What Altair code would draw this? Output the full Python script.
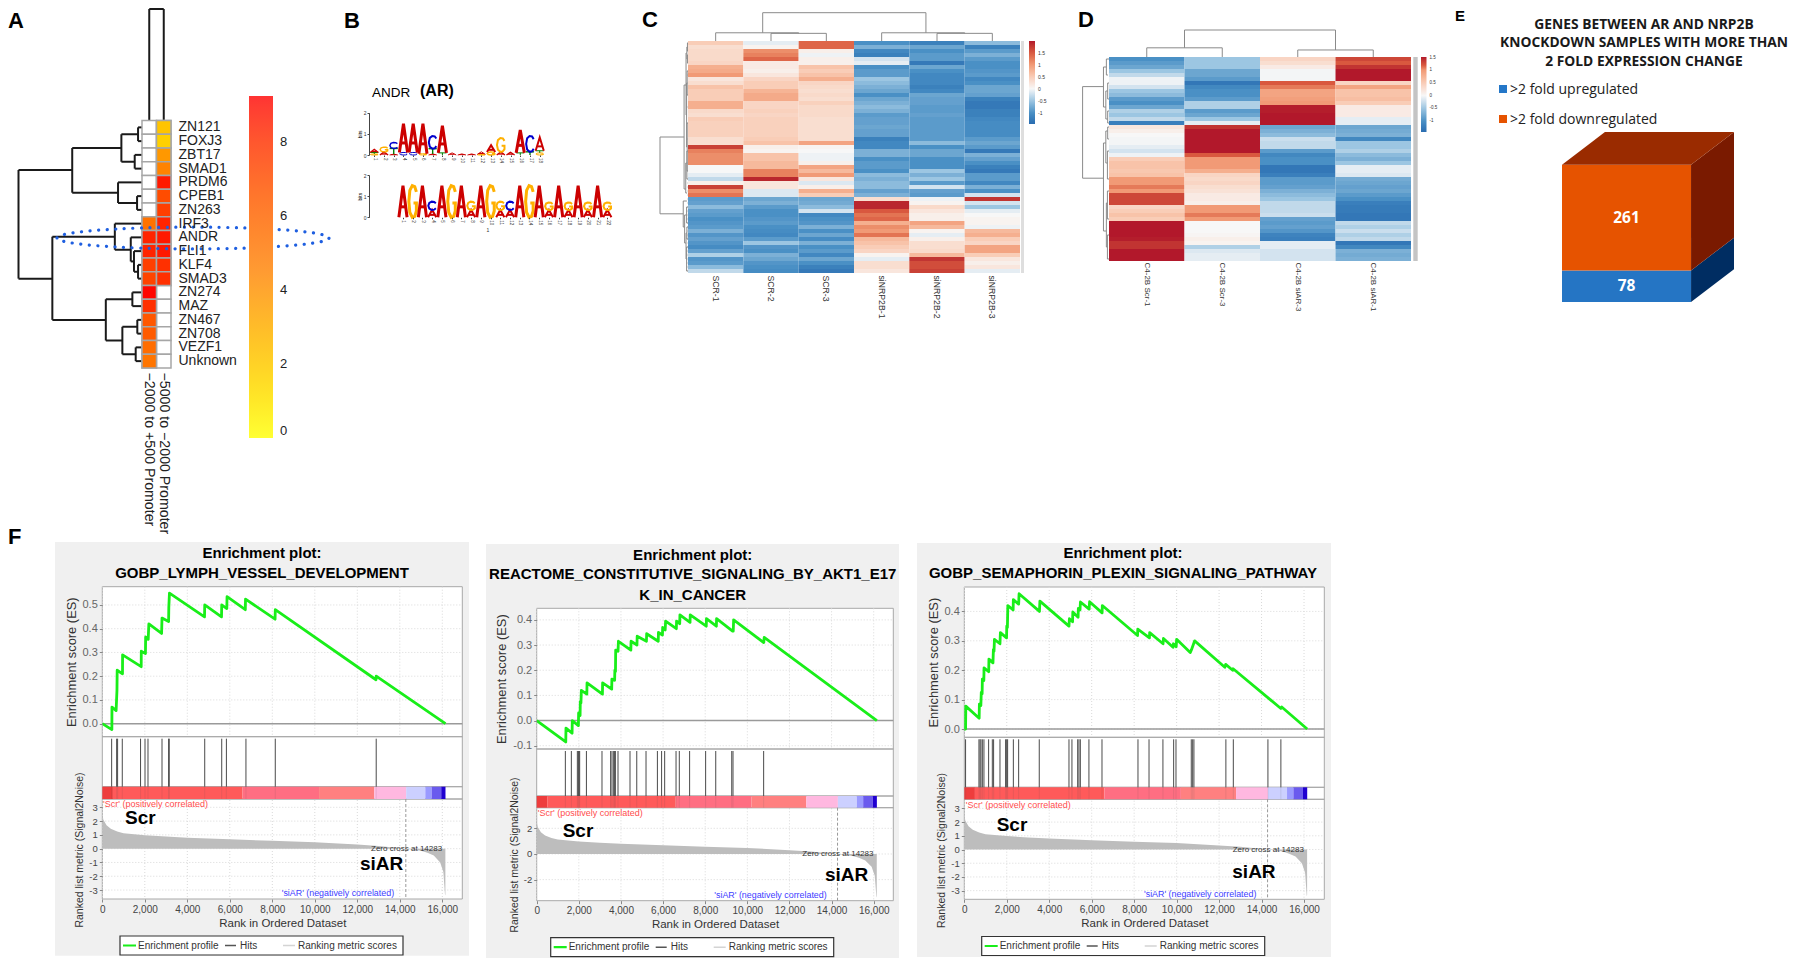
import altair as alt
import pandas as pd

W, H = 1784, 951
px = lambda v: v - 8
py = lambda v: v - 8
layers = []
ONE = alt.Data(values=[{"a": 1}])
SANS = "Liberation Sans"

# ---------- panel A values ----------
a_tfs = ["ZN121", "FOXJ3", "ZBT17", "SMAD1", "PRDM6", "CPEB1", "ZN263", "IRF3", "ANDR", "FLI1", "KLF4", "SMAD3",
         "ZN274", "MAZ", "ZN467", "ZN708", "VEZF1", "Unknown"]
a_cols = ["\u22122000 to +500 Promoter", "\u22125000 to \u22122000 Promoter"]
a_near = [None, None, None, None, None, None, None, 5.5, 8.8, 8.8, 8.0, 7.8, 9.2, 8.5, 7.0, 6.8, 5.8, 5.3]
a_far = [3.2, 2.9, 4.3, 4.8, 9.0, 7.5, 8.0, 8.8, 9.0, 9.0, 8.5, 8.5, None, None, None, None, None, None]
a_nodes = [(.032, 0, 0, 1, 0), (.059, 2, 0, 3, 0), (.167, .5, .032, 2.5, .059), (.04, 5, 0, 6, 0),
           (.194, 4, 0, 5.5, .04), (.565, 1.5, .167, 4.75, .194), (.032, 10, 0, 11, 0), (.065, 9, 0, 10.5, .032),
           (.091, 8, 0, 9.75, .065), (.22, 7, 0, 8.9, .091), (.078, 12, 0, 13, 0), (.038, 14, 0, 15, 0),
           (.051, 16, 0, 17, 0), (.159, 14.5, .038, 16.5, .051), (.293, 12.5, .078, 15.5, .159),
           (.726, 7.95, .22, 14, .293), (1, 3.1, .565, 11, .726)]

# ---------- panel B values (position, base, bits), stacked from the bottom ----------
logo_one = [(1, "G", .05), (1, "T", .07), (1, "A", .15), (2, "A", .15), (2, "G", .22), (3, "A", .04), (3, "T", .27), (3, "C", .28),
            (4, "C", .12), (4, "A", 1.36), (5, "C", .12), (5, "A", 1.36), (6, "G", .06), (6, "A", 1.42),
            (7, "A", .05), (7, "T", .25), (7, "C", .6), (8, "T", .1), (8, "A", 1.28), (9, "A", .1), (10, "A", .05), (11, "A", .05),
            (12, "G", .03), (12, "A", .12), (13, "G", .14), (13, "A", .32), (14, "A", .15), (14, "G", .65), (15, "A", .13),
            (16, "T", .1), (16, "A", 1.08), (17, "T", .15), (17, "C", .75), (18, "G", .1), (18, "T", .1), (18, "A", .63)]
logo_two = [(1, "A", 1.5), (2, "G", 1.5), (3, "A", 1.5), (4, "A", .35), (4, "C", .39), (5, "A", 1.5), (6, "G", 1.5), (7, "A", 1.5),
            (8, "A", .35), (8, "G", .39), (9, "A", 1.5), (10, "G", 1.5), (11, "A", .35), (11, "G", .39), (12, "A", .35), (12, "C", .39),
            (13, "A", 1.5), (14, "G", 1.5), (15, "A", 1.5), (16, "A", .35), (16, "G", .35), (17, "A", 1.5), (18, "A", .35), (18, "G", .35),
            (19, "A", 1.5), (20, "A", .35), (20, "G", .35), (21, "A", 1.5), (22, "A", .35), (22, "G", .35)]
base_colors = {"A": "#cc0000", "C": "#0000cc", "G": "#ffb000", "T": "#008000"}
glyphs = {
    "A": [[(0, 0), (.5, 1), (1, 0)], [(.2, .33), (.8, .33)]],
    "T": [[(0, 1), (1, 1)], [(.5, 1), (.5, 0)]],
    "C": [[(.95, .8), (.75, .97), (.45, 1), (.15, .85), (.03, .5), (.15, .15), (.45, 0), (.75, .03), (.95, .2)]],
    "G": [[(.95, .8), (.75, .97), (.45, 1), (.15, .85), (.03, .5), (.15, .15), (.45, 0), (.75, .03), (.95, .2), (.95, .45), (.6, .45)]],
}

# ---------- panel C values ----------
c_cols = ["SCR-1", "SCR-2", "SCR-3", "siNRP2B-1", "siNRP2B-2", "siNRP2B-3"]
c_scr1 = [.5, .3, .35, .35, .35, .4, .8, .85, 1.0, .2, .3, .6, .5, .5, .5, .8, .8, .35, .3, .5, .45, .45, .45, .45, .3, .3, 1.7, 1.2, 1.1, 1.1, 1.1, .0, .0, -.1, -.3, .1, 1.7, 1.1, 1.3,
          -.9, -.85, -.6, -.85, -.9, -1, -.95, -.9, -.7, -.95, -.85, -.95, -1.05, -.85, -.4, -.95, -.9, -.6, -.3]
c_scr2 = [-.1, .05, 1.1, 1.2, 1.4, .15, .15, .1, .2, .4, .5, .5, .75, .85, .85, .4, .4, .45, .4, .45, .45, .45, .45, .45, .5, .6, .1, .05, .6, .6, .7, .7, 1.2, 1.2, 1.9, .2, .2, -.15, -.15,
          -.8, -.7, -.9, -1, -1, -.95, -.9, -1, -1.05, -1.1, -.9, -.5, -.95, -1, -.7, -.8, -.95, -1, -1.05]
c_scr3 = [1.4, 1.4, .1, -.05, .1, .1, .6, .5, .6, .8, .4, .35, .3, .35, .3, .45, .35, .35, .35, .3, .3, .3, .3, .3, .3, .9, .05, 0, -.05, -.05, .1, .9, .7, 1.0, .2, -.15, .1, .8, .5,
          -.8, -.75, -.6, -.2, -1.1, -1, -.95, -.7, -1, -.8, -1.05, -.7, -1, -.9, -1.1, -.8, -1, -1.2, -1.3]
c_nrp1 = [-1.0, -.7, -1.1, -1.2, -.2, -.1, -1.0, -.9, -.9, -.5, -.6, -.7, -.8, -1.0, -.8, -.7, -.6, -.7, -.9, -.85, -.85, -.8, -.85, -.85, -1.2, -1.1, -1.1, -.7, -.7, -1.0, -.9, -.9, -1, -.6, -.7, -.6, -.6, -.85, -.7,
          .3, 1.9, 1.9, 1.5, 1.3, 1.4, .8, 1.1, 1.0, 1.3, .7, .6, .5, .4, .05, -.1, .3, .3, .2]
c_nrp2 = [-1.2, -.8, -1.0, -.9, -.9, -1.3, -.8, -1.0, -1.1, -1.1, -1.1, -1.2, -1.1, -.8, -.85, -.85, -.9, -.9, -.85, -.9, -.9, -.9, -.9, -.9, -.9, -.6, -1, -.8, -.8, -1, -1, -1, -.5, -.7, -.5, -.9, -.2, -.85, -.9,
          -.05, .05, .35, .2, .1, .1, .9, .7, .05, -.1, .1, .3, .3, .35, .7, 1.8, 1.6, 1.6, 1.7]
c_nrp3 = [-.6, -1.2, -.9, -.7, -.9, -1, -1, -.95, -.9, -1.1, -1, -.8, -.8, -.85, -1.2, -1.3, -1.3, -1.2, -1.2, -1.1, -1.05, -1.05, -1.05, -1.05, -.9, -.8, -.9, -1.3, -.7, -.85, -1, -1.2, -1.3, -.9, -.9, -1.1, -.7, -1, -.2,
          1.8, -.2, -.5, -.1, 0, .05, .05, -.05, .7, .8, .5, .4, .9, .9, .5, .2, .1, .2, -.1]
c_left_nodes = [(1, 23.5, .14, 42.7, .17), (.14, 10.5, .07, 36.5, .08), (.07, 2.5, .04, 18, .05), (.04, 1, .02, 4, .02),
                (.05, 10, .03, 26, .03), (.03, 7, 0, 13, 0), (.03, 20, 0, 32, 0), (.08, 30, .04, 37.5, .03), (.04, 27, 0, 34, 0),
                (.17, 39.5, .04, 46, .12), (.12, 43, .05, 50, .07), (.05, 41, 0, 45, 0), (.07, 47.5, .04, 54, .05), (.04, 46, 0, 49, 0),
                (.05, 51, 0, 57, 0), (.02, 0, 0, 2, 0), (.02, 3, 0, 5, 0)]
c_leaf_rows = [0, 1, 2, 3, 4, 5, 7, 8, 10, 13, 16, 20, 24, 27, 30, 32, 34, 35, 36, 37, 38, 39, 40, 41, 42, 43, 44, 45, 46, 47, 48, 49, 50, 51, 52, 53, 54, 55, 56, 57]
c_top_nodes = [(.27, 1.5, 0, 2.5, 0), (.29, .5, 0, 2, .27), (.27, 4.5, 0, 5.5, 0), (.29, 3.5, 0, 5, .27), (1, 1.35, .29, 4.3, .29)]

# ---------- panel D values ----------
d_cols = ["C4-2B Scr-1", "C4-2B Scr-3", "C4-2B siAR-3", "C4-2B siAR-1"]
d_scr1 = [-1, -.9, -.8, -.5, -.3, -.05, -.05, -.2, -.5, -.6, -.9, -1, -.8, -.4, -.5, -.3, -1.2,
          .2, .1, 0, -.02, -.02, -.1, -.2, -.05, .5, .6, .6, .55, .6, 1.0, 1.0, 1.1, 1.0, 1.3, 1.3, 1.3, .4, .5, .6, .5, 1.8, 1.8, 1.8, 1.8, 1.5, 1.4, 1.4, 1.8, 1.8, 1.8]
d_scr3 = [-.5, -.5, -.5, -.8, -.8, -.9, -1.3, -1.1, -1, -1, -.9, -.4, -.4, -.9, -.8, -.5, -.1,
          1.4, 1.6, 1.6, 1.7, 1.7, 1.8, 1.8, 1.2, 1.0, 1.0, 1.0, .8, .4, .35, .4, .3, .25, .15, .15, .1, 1.0, 1.0, 1.1, 1.0, 0, 0, 0, .03, .1, .05, -.4, -.15, -.1, -.1]
d_siar3 = [.4, .3, .15, -.02, -.02, -.02, 1.2, 1.1, .9, .9, .95, 1.0, 1.5, 1.5, 1.6, 1.8, 1.8,
           -.8, -.7, -.6, -.25, -.3, -.3, -.9, -1.1, -1.0, -1.0, -1.3, -1.3, -1.2, -.9, -.9, -.85, -.7, -.6, -.5, -.3, -.3, -.3, -.25, -.85, -.9, -.85, -.95, -1.15, -1.2, -.1, -.1, -.2, -.2, -.2]
d_siar1 = [1.3, 1.2, 1.4, 1.8, 1.8, 1.8, .4, .9, .6, .6, .65, .5, .15, .15, .15, -.1, -.1,
           -.8, -.75, -.7, -1.1, -.5, -.5, -.4, -.6, -.7, -.5, -.1, -.1, -.15, -.75, -.8, -.85, -.8, -.9, -1.0, -1.2, -1.25, -1.25, -1.3, -1.3, -.3, -.4, -.25, -.4, -.3, -1.3, -1.1, -.7, -.75, -.7]
d_left_nodes = [(1, 6.9, .21, 29.8, .21), (.21, 2, .1, 12, .12), (.1, 0, 0, 4, .04), (.12, 8, .05, 15, .05), (.05, 6, 0, 10, 0), (.05, 13, 0, 16, 0),
                (.21, 21, .12, 43, .1), (.12, 18, .05, 26, .06), (.05, 17, 0, 20, 0), (.06, 23, 0, 30, 0), (.1, 36, .06, 47, .06), (.06, 33, 0, 40, 0), (.06, 44, 0, 50, 0)]
d_top_nodes = [(.34, .5, 0, 1.5, 0), (.26, 2.5, 0, 3.5, 0), (1, 1, .34, 3, .26)]

# ---------- panel E values ----------
e_counts = [78, 261]
e_names = [">2 fold upregulated", ">2 fold downregulated"]

# ---------- panel F values ----------
es_one_rank = [0, 450, 455, 650, 690, 700, 950, 955, 1830, 1835, 2030, 2040, 2160, 2190, 2790, 2810, 3120, 3130, 3160, 4810, 4820, 5610, 5620, 5860, 5870, 6730, 6740, 8130, 8140, 12880, 12890, 16150]
es_one_val = [0, -.025, .07, .055, .14, .225, .21, .29, .24, .305, .295, .365, .355, .42, .38, .445, .43, .49, .55, .45, .5, .45, .5, .485, .535, .48, .525, .44, .48, .185, .2, 0]
hits_one = [440, 675, 720, 940, 1800, 2010, 2150, 2810, 3120, 3150, 4820, 5620, 5840, 6760, 8140, 12890]
es_two_rank = [0, 1380, 1390, 1680, 1690, 1980, 1990, 2060, 2070, 2100, 2120, 2380, 2390, 3120, 3130, 3560, 3570, 3700, 3710, 3740, 3750, 3860, 3880, 4470, 4480, 4760, 4770, 5210, 5220, 5770, 5780, 5970, 5980, 6100, 6120, 6630, 6640, 6790, 6800, 7280, 7290, 8050, 8060, 8530, 8540, 9300, 9330, 9350, 10780, 10800, 16150]
es_two_val = [0, -.085, -.03, -.05, 0, -.02, .03, .02, .075, .07, .12, .105, .15, .105, .15, .125, .165, .16, .2, .195, .28, .275, .315, .28, .315, .3, .335, .315, .345, .315, .35, .34, .37, .36, .395, .365, .395, .385, .42, .39, .42, .375, .405, .375, .405, .355, .355, .4, .31, .33, 0]
hits_two = [1360, 1645, 1930, 1980, 2010, 2040, 2360, 3100, 3510, 3575, 3655, 3700, 3735, 3860, 4430, 4750, 5190, 5730, 5930, 6075, 6615, 6770, 7260, 8020, 8500, 9260, 9320, 10775]
es_three_rank = [0, 60, 70, 700, 710, 780, 800, 840, 850, 920, 930, 1150, 1160, 1350, 1370, 1400, 1420, 1680, 1700, 1990, 2000, 2030, 2050, 2300, 2310, 2560, 2580, 3540, 3560, 4930, 4950, 5100, 5110, 5360, 5370, 5450, 5470, 5880, 5900, 6490, 6500, 8160, 8170, 8720, 8730, 9360, 9380, 9830, 9850, 9980, 10000, 10640, 10700, 10850, 12270, 12310, 12640, 12660, 14910, 14950, 16150]
es_three_val = [0, 0, .078, .037, .085, .08, .125, .12, .17, .165, .208, .195, .238, .225, .27, .265, .305, .29, .328, .31, .35, .345, .42, .405, .44, .425, .46, .4, .435, .35, .375, .365, .398, .38, .41, .405, .432, .408, .433, .395, .42, .318, .34, .31, .328, .29, .308, .278, .29, .28, .305, .26, .27, .3, .21, .22, .2, .205, .07, .075, 0]
hits_three = [60, 690, 740, 785, 850, 925, 1145, 1320, 1380, 1680, 1945, 1995, 2040, 2310, 2560, 3530, 4930, 5070, 5340, 5400, 5465, 5870, 6485, 8180, 8700, 9355, 9860, 9970, 10690, 10755, 10815, 12320, 12670, 14300, 14910]
metric_rank = [0, 50, 200, 400, 700, 1000, 2000, 3000, 4000, 6000, 8000, 10000, 12000, 13000, 14283, 15000, 15300, 15600, 15900, 16050, 16130, 16145]
metric_val = [2.5, 2.1, 1.7, 1.45, 1.25, 1.12, .98, .88, .8, .68, .57, .47, .3, .2, 0, -.15, -.3, -.5, -1, -1.7, -3.4, -3.3]
band_start = [0, 500, 6600, 10200, 12800, 14300, 15200, 15500, 15950]
band_end = [500, 6600, 10200, 12800, 14300, 15200, 15500, 15950, 16150]
band_color = ["#ee3d3d", "#ff5a5a", "#ff6e82", "#ff8080", "#ffb8e0", "#ccd0ff", "#9a9aff", "#6a5aee", "#2000d0"]
rank_ticks = [0, 2000, 4000, 6000, 8000, 10000, 12000, 14000, 16000]
zero_cross = 14283


# ---------- helpers ----------
def qs(domain, r0, r1):
    return alt.Scale(domain=domain, range=[r0, r1], nice=False, zero=False)


def txt(s, x, y, size, color="#000", weight="normal", font=SANS, align="left", angle=0):
    layers.append(alt.Chart(alt.Data(values=[{"t": s}])).mark_text(
        fontSize=size, color=color, fontWeight=weight, font=font, align=align, baseline="middle", angle=angle
    ).encode(x=alt.value(px(x)), y=alt.value(py(y)), text="t:N"))


def box(x0, y0, x1, y1, fill="transparent", stroke=None, sw=1):
    kw = {"fill": fill}
    if stroke:
        kw.update(stroke=stroke, strokeWidth=sw)
    layers.append(alt.Chart(ONE).mark_rect(**kw).encode(
        x=alt.value(px(x0)), x2=alt.value(px(x1)), y=alt.value(py(y0)), y2=alt.value(py(y1))))


def segs_from(nodes, stubs=()):
    out = []
    for d, r0, d0, r1, d1 in nodes:
        out.append(dict(a=d, b=r0, a2=d, b2=r1))
        out.append(dict(a=d, b=r0, a2=d0, b2=r0))
        out.append(dict(a=d, b=r1, a2=d1, b2=r1))
    for s in stubs:
        out.append(s)
    return pd.DataFrame(out)


def tree(df, xs, ys, horizontal_rows, color, sw):
    # horizontal_rows: a = distance on x, b = row on y; otherwise a = height on y, b = position on x
    if horizontal_rows:
        enc = dict(x=alt.X("a:Q", scale=xs, axis=None), x2="a2:Q", y=alt.Y("b:Q", scale=ys, axis=None), y2="b2:Q")
    else:
        enc = dict(x=alt.X("b:Q", scale=xs, axis=None), x2="b2:Q", y=alt.Y("a:Q", scale=ys, axis=None), y2="a2:Q")
    layers.append(alt.Chart(df).mark_rule(color=color, strokeWidth=sw).encode(**enc))


def long_table(cols, series):
    rows = []
    for c, vals in zip(cols, series):
        for i, v in enumerate(vals):
            if v is not None:
                rows.append(dict(col=c, row=i, v=v))
    return pd.DataFrame(rows)


def heat(cols, series, x0, x1, y0, y1, n, domain, colors, leg_x, leg_y, leg_len, leg_th, ticks, label_size, axis_y, axis_size, pad):
    layers.append(alt.Chart(long_table(cols, series)).mark_rect().encode(
        x=alt.X("col:N", sort=cols, scale=alt.Scale(domain=cols, range=[px(x0), px(x1)], paddingInner=0, paddingOuter=0),
                axis=alt.Axis(orient="bottom", offset=py(axis_y) - H, title=None, labelAngle=90, domain=False, ticks=False,
                              labelFontSize=axis_size, labelColor="#333", labelFont=SANS, labelPadding=pad, labelLimit=200, zindex=1)),
        y=alt.Y("row:O", scale=alt.Scale(domain=list(range(n)), range=[py(y0), py(y1)], paddingInner=0, paddingOuter=0), axis=None),
        color=alt.Color("v:Q", scale=alt.Scale(domain=domain, range=colors, clamp=True),
                        legend=alt.Legend(orient="none", legendX=px(leg_x), legendY=py(leg_y), direction="vertical", title=None,
                                          gradientLength=leg_len, gradientThickness=leg_th, values=ticks, labelFontSize=label_size,
                                          labelColor="#333", labelFont=SANS, labelExpr="'' + datum.value", gradientStrokeWidth=0,
                                          labelOffset=3, labelOverlap=False)),
    ))


def logo(data, r0, r1, n, base_y, top_y, labels_y):
    recs = []
    stack = {}
    g = 0
    for pos, b, h in data:
        s = stack.get(pos, 0)
        stack[pos] = s + h
        w = 3.0 if h > .9 else (2.0 if h > .3 else (1.4 if h > .12 else 1.0))
        for stroke in glyphs[b]:
            g += 1
            for o, (u, v) in enumerate(stroke):
                recs.append(dict(x=pos - .42 + .84 * u, y=s + h * v, g=g, o=o, c=base_colors[b], w=w))
    xs = qs([.5, n + .5], r0 - 8, r1 - 8)
    ys = qs([0, 2], py(base_y), py(top_y))
    layers.append(alt.Chart(pd.DataFrame(recs)).mark_line(strokeJoin="miter").encode(
        x=alt.X("x:Q", scale=xs, axis=None),
        y=alt.Y("y:Q", scale=ys, axis=alt.Axis(orient="left", offset=-px(369), values=[0, 1, 2], title="bits", titleFontSize=5,
                                               titleFontWeight="normal", labelFontSize=5, tickSize=2, domainColor="#444", tickColor="#444",
                                               labelColor="#333", titlePadding=1, labelPadding=1, grid=False, zindex=1,
                                               labelExpr="'' + datum.value")),
        detail="g:N", order="o:Q",
        color=alt.Color("c:N", scale=None), strokeWidth=alt.StrokeWidth("w:Q", scale=None)))
    layers.append(alt.Chart(pd.DataFrame({"p": list(range(1, n + 1))})).mark_tick(opacity=0).encode(
        x=alt.X("p:Q", scale=xs, axis=alt.Axis(orient="bottom", offset=py(labels_y) - H, values=list(range(1, n + 1)), title=None, labelAngle=90,
                                               labelFontSize=4.5, tickSize=1.5, domain=False, labelPadding=1, labelFlush=False,
                                               labelOverlap=False, labelColor="#333", tickColor="#444", grid=False,
                                               labelExpr="'' + datum.value", zindex=1))))


# ---------- letters ----------
for s, x, y, size in [("A", 8, 21, 22), ("B", 344, 21, 22), ("C", 642, 20, 22), ("D", 1078, 20, 22), ("E", 1455, 16, 15), ("F", 8, 537, 22)]:
    txt(s, x, y, size, weight="bold")

# ---------- panel A ----------
a_x = qs([1, 0], px(18.5), px(142))
a_y = qs([-.5, 17.5], py(120.5), py(368))
tree(segs_from(a_nodes), a_x, a_y, True, "#1a1a1a", 2)
col_tree = [dict(a=1, b=.5, a2=1, b2=1.5), dict(a=1, b=.5, a2=0, b2=.5), dict(a=1, b=1.5, a2=0, b2=1.5)]
tree(pd.DataFrame(col_tree), qs([0, 2], px(142), px(171)), qs([0, 1], py(120.5), py(9)), False, "#1a1a1a", 2)
a_long_all = pd.DataFrame([dict(col=c, tf=t) for c in a_cols for t in a_tfs])
a_xband = alt.Scale(domain=a_cols, range=[px(142), px(171)], paddingInner=0, paddingOuter=0)
a_yband = alt.Scale(domain=a_tfs, range=[py(120.5), py(368)], paddingInner=0, paddingOuter=0)
layers.append(alt.Chart(a_long_all).mark_rect(fill="white", stroke="#a6a6a6", strokeWidth=1.5).encode(
    x=alt.X("col:N", scale=a_xband, axis=alt.Axis(orient="bottom", offset=py(368) - H, title=None, labelAngle=90, domain=False, ticks=False,
                                                  labelFontSize=14.2, labelColor="#222", labelFont=SANS, labelPadding=4, labelLimit=300, zindex=1)),
    y=alt.Y("tf:N", scale=a_yband, axis=alt.Axis(orient="right", offset=px(172) - W, title=None, domain=False, ticks=False, labelFontSize=14,
                                                 labelColor="#222", labelFont=SANS, labelPadding=6, labelOverlap=False, zindex=1))))
a_vals = pd.DataFrame([dict(col=c, tf=t, v=v) for c, vs in zip(a_cols, [a_near, a_far]) for t, v in zip(a_tfs, vs) if v is not None])
layers.append(alt.Chart(a_vals).mark_rect(stroke="#a6a6a6", strokeWidth=1.5).encode(
    x=alt.X("col:N", scale=a_xband, axis=None), y=alt.Y("tf:N", scale=a_yband, axis=None),
    color=alt.Color("v:Q", scale=alt.Scale(domain=[0, 2.9, 5, 9.25], range=["#ffff00", "#ffd000", "#ff7a00", "#ff0000"]), legend=None)))
layers.append(alt.Chart(pd.DataFrame({"v": [0, 9.25]})).mark_rect(fillOpacity=0).encode(
    color=alt.Color("v:Q", scale=alt.Scale(domain=[0, 4.6, 9.25], range=["#ffff33", "#ff9933", "#ff3333"]),
                    legend=alt.Legend(orient="none", legendX=px(249), legendY=py(96), direction="vertical", title=None, gradientLength=342,
                                      gradientThickness=24, values=[0, 2, 4, 6, 8], labelFontSize=13, labelColor="#222", labelFont=SANS,
                                      gradientStrokeWidth=0, labelOffset=7))))
layers.append(alt.Chart(ONE).mark_point(
    shape="M-1,0A1,.08,0,1,1,1,0A1,.08,0,1,1,-1,0Z", filled=False, size=272 * 272, stroke="#1f5fe0", strokeWidth=3.2,
    strokeDash=[.1, 8.5], strokeCap="round", opacity=1).encode(x=alt.value(px(193)), y=alt.value(py(238))))

# ---------- panel B ----------
txt("ANDR", 372, 93, 13.5)
txt("(AR)", 420, 91, 16, weight="bold")
logo(logo_one, 369.4, 544.6, 18, 155, 112.7, 155)
logo(logo_two, 398.1, 612.2, 22, 217.3, 175, 217.3)
txt("1", 488, 230, 5, color="#333", align="center")

# ---------- panel C ----------
rb_dom_c = [-1.47, -1, -.5, 0, .5, 1, 1.5, 1.99]
rb_rng = ["#2a6cb0", "#4a90c5", "#9cc6e2", "#f7f7f7", "#f9cdb7", "#f19a76", "#d9583f", "#b2182b"]
heat(c_cols, [c_scr1, c_scr2, c_scr3, c_nrp1, c_nrp2, c_nrp3], 688, 1020, 41, 273, 58, rb_dom_c, rb_rng, 1029, 41, 83, 6,
     [-1, -.5, 0, .5, 1, 1.5], 5, 273, 8.7, 2)
box(1021, 41, 1024, 273, fill="#dedede")
c_y = qs([-.5, 57.5], py(41), py(273))
c_stubs = [dict(a=.015, b=r, a2=0, b2=r) for r in c_leaf_rows]
tree(segs_from(c_left_nodes, c_stubs), qs([1, 0], px(660), px(688)), c_y, True, "#8a8a8a", 1)
tree(segs_from(c_top_nodes), qs([0, 6], px(688), px(1020)), qs([0, 1], py(41), py(12.7)), False, "#8a8a8a", 1)

# ---------- panel D ----------
rb_dom_d = [-1.43, -1, -.5, 0, .5, 1, 1.2, 1.52]
heat(d_cols, [d_scr1, d_scr3, d_siar3, d_siar1], 1109, 1411, 57, 261, 51, rb_dom_d, rb_rng, 1421, 57, 75, 5.5,
     [-1, -.5, 0, .5, 1, 1.5], 4.5, 261, 8, 1)
box(1413.3, 57, 1417.7, 261, fill="#c4c4c4")
tree(segs_from(d_left_nodes), qs([1, 0], px(1082.6), px(1109)), qs([-.5, 50.5], py(57), py(261)), True, "#8a8a8a", 1)
tree(segs_from(d_top_nodes), qs([0, 4], px(1109), px(1411)), qs([0, 1], py(57), py(30)), False, "#8a8a8a", 1)

# ---------- panel E ----------
for line, y in [("GENES BETWEEN AR AND NRP2B", 25), ("KNOCKDOWN SAMPLES WITH MORE THAN", 43), ("2 FOLD EXPRESSION CHANGE", 62)]:
    txt(line, 1644, y, 13.8, weight="bold", font="Open Sans", align="center", color="#1a1a1a")
box(1499, 85, 1507, 93, fill="#2477c8")
box(1499, 115, 1507, 123, fill="#e65300")
txt(e_names[0], 1510, 90, 14, color="#222", font="Open Sans")
txt(e_names[1], 1510, 120, 14, color="#222", font="Open Sans")
low, high = e_counts
total = low + high
depth = 81
e_x = qs([0, 1.333], px(1562), px(1734))
e_y = qs([0, total + depth], py(302), py(132))
front = pd.DataFrame({"a": [0, low], "b": [low, total], "c": ["#2575c4", "#e65300"], "n": e_counts})
layers.append(alt.Chart(front).mark_rect().encode(
    x=alt.X("x0:Q", scale=e_x, axis=None), x2="x1:Q", y=alt.Y("a:Q", scale=e_y, axis=None), y2="b:Q",
    color=alt.Color("c:N", scale=None)).transform_calculate(x0="0", x1="1"))
blue_side = pd.DataFrame({"x": [1, 1.333], "y": [0, depth], "y2": [low, low + depth]})
orange_side = pd.DataFrame({"x": [1, 1.333], "y": [low, low + depth], "y2": [total, total + depth]})
for df, col in [(blue_side, "#002d62"), (orange_side, "#7a1a00")]:
    layers.append(alt.Chart(df).mark_area(color=col, opacity=1).encode(
        x=alt.X("x:Q", scale=e_x, axis=None), y=alt.Y("y:Q", scale=e_y, axis=None), y2="y2:Q"))
top_face = pd.DataFrame({"y": [total, total + depth], "x": [0, .333], "x2": [1, 1.333]})
layers.append(alt.Chart(top_face).mark_area(color="#9a2b00", orient="horizontal", opacity=1).encode(
    y=alt.Y("y:Q", scale=e_y, axis=None), x=alt.X("x:Q", scale=e_x, axis=None), x2="x2:Q"))
lab = pd.DataFrame({"m": [low / 2, low + high / 2], "n": e_counts}).assign(x=.5)
layers.append(alt.Chart(lab).mark_text(color="white", fontWeight="bold", fontSize=15.5, font="Open Sans").encode(
    x=alt.X("x:Q", scale=e_x, axis=None), y=alt.Y("m:Q", scale=e_y, axis=None), text="n:N"))


# ---------- panel F ----------
def gsea(p):
    x0, x1 = p["x"]
    xs = qs([0, p["rmax"]], px(x0), px(x1))
    es_y = qs(p["es_dom"], py(p["es"][1]), py(p["es"][0]))
    m_y = qs(p["m_dom"], py(p["m"][1]), py(p["m"][0]))
    box(*p["bg"], fill="#f0f0f0")
    for i, line in enumerate(p["title"]):
        txt(line, p["cx"], p["ty"][i], 15, weight="bold", align="center")
    box(x0, p["es"][0], x1, p["m"][1], fill="white", stroke="#a8a8a8", sw=1)
    grid = alt.Chart(pd.DataFrame({"r": rank_ticks}))
    for ya, yb in [p["es"], p["m"]]:
        layers.append(grid.mark_rule(color="#d9d9d9", strokeDash=[1, 2], strokeWidth=1).encode(
            x=alt.X("r:Q", scale=xs, axis=None), y=alt.value(py(ya)), y2=alt.value(py(yb))))
    layers.append(alt.Chart(pd.DataFrame({"v": p["es_ticks"]})).mark_rule(color="#d9d9d9", strokeDash=[1, 2]).encode(
        y=alt.Y("v:Q", scale=es_y, axis=None), x=alt.value(px(x0)), x2=alt.value(px(x1))))
    layers.append(alt.Chart(pd.DataFrame({"v": p["m_ticks"]})).mark_rule(color="#d9d9d9", strokeDash=[1, 2]).encode(
        y=alt.Y("v:Q", scale=m_y, axis=None), x=alt.value(px(x0)), x2=alt.value(px(x1))))
    layers.append(alt.Chart(pd.DataFrame({"v": [0]})).mark_rule(color="#9a9a9a", strokeWidth=1.5).encode(
        y=alt.Y("v:Q", scale=es_y, axis=None), x=alt.value(px(x0)), x2=alt.value(px(x1))))
    # separators
    for yy in [p["es"][1], p["band"][0], p["band"][1]]:
        box(x0, yy, x1, yy, stroke="#a8a8a8", sw=1)
    # band
    band = pd.DataFrame({"a": band_start, "b": band_end, "c": band_color})
    layers.append(alt.Chart(band).mark_rect().encode(
        x=alt.X("a:Q", scale=xs, axis=None), x2="b:Q", y=alt.value(py(p["band"][0])), y2=alt.value(py(p["band"][1])),
        color=alt.Color("c:N", scale=None)))
    # hits
    hits = alt.Chart(pd.DataFrame({"r": p["hits"]}))
    layers.append(hits.mark_rule(color="#4a4a4a", strokeWidth=1).encode(
        x=alt.X("r:Q", scale=xs, axis=None), y=alt.value(py(p["es"][1] + 2)), y2=alt.value(py(p["band"][0]))))
    layers.append(hits.mark_rule(color="#4a4a4a", strokeWidth=1, opacity=.12).encode(
        x=alt.X("r:Q", scale=xs, axis=None), y=alt.value(py(p["band"][0])), y2=alt.value(py(p["band"][1]))))
    # metric
    layers.append(alt.Chart(pd.DataFrame({"r": metric_rank, "v": metric_val}).assign(z=0)).mark_area(color="#bdbdbd", opacity=1).encode(
        x=alt.X("r:Q", scale=xs, axis=alt.Axis(orient="bottom", offset=py(p["m"][1]) - H, values=rank_ticks, labelExpr="format(datum.value, ',')",
                                               title="Rank in Ordered Dataset", titleFontSize=11.5, titleFontWeight="normal", titleColor="#333", titleFont=SANS,
                                               titlePadding=3, labelFontSize=10, labelColor="#444", labelFont=SANS, tickSize=3, tickColor="#888",
                                               domain=False, grid=False, labelFlush=False, zindex=1)),
        y=alt.Y("v:Q", scale=m_y, axis=alt.Axis(orient="left", offset=-px(x0), values=p["m_ticks"], title="Ranked list metric (Signal2Noise)",
                                                titleFontSize=10.5, titleFontWeight="normal", titleColor="#333", titleFont=SANS, labelFontSize=9.5, labelColor="#444",
                                                labelFont=SANS, tickSize=3, tickColor="#888", domain=False, grid=False, titlePadding=4,
                                                labelExpr="'' + datum.value", zindex=1)),
        y2="z:Q"))
    layers.append(alt.Chart(pd.DataFrame({"r": [zero_cross]})).mark_rule(color="#999", strokeDash=[3, 2]).encode(
        x=alt.X("r:Q", scale=xs, axis=None), y=alt.value(py(p["band"][1])), y2=alt.value(py(p["m"][1]))))
    # running score
    es = pd.DataFrame({"r": p["rank"], "v": p["val"]}).reset_index()
    layers.append(alt.Chart(es).mark_line(color="#19ee19", strokeWidth=2.8, strokeJoin="round").encode(
        x=alt.X("r:Q", scale=xs, axis=None), order="index:Q",
        y=alt.Y("v:Q", scale=es_y, axis=alt.Axis(orient="left", offset=-px(x0), values=p["es_ticks"], title="Enrichment score (ES)", titleFontSize=12.9,
                                                 titleFontWeight="normal", titleColor="#333", titleFont=SANS, labelFontSize=11, labelColor="#666", labelFont=SANS,
                                                 tickSize=3, tickColor="#888", domain=False, grid=False, titlePadding=4,
                                                 labelExpr="replace(format(datum.value,'.1f'),'\u2212','-')", zindex=1))))
    # annotations
    txt("'Scr' (positively correlated)", p["pos"][0], p["pos"][1], 9, color="#ff4d4d")
    txt("'siAR' (negatively correlated)", p["neg"][0], p["neg"][1], 8.9, color="#4040ff")
    txt("Zero cross at 14283", p["zc"][0], p["zc"][1], 8, color="#333")
    txt("Scr", p["scr"][0], p["scr"][1], 19, weight="bold")
    txt("siAR", p["si"][0], p["si"][1], 19, weight="bold")
    # legend frame
    lx, ly = p["leg"]
    box(lx, ly, lx + 283, ly + 19, fill="white", stroke="#333", sw=1.2)
    cy = ly + 9.5
    box(lx + 3, cy, lx + 16, cy, stroke="#19ee19", sw=2.2)
    txt("Enrichment profile", lx + 18, cy, 10, color="#333")
    box(lx + 105, cy, lx + 116, cy, stroke="#555", sw=1.5)
    txt("Hits", lx + 120, cy, 10, color="#333")
    box(lx + 163, cy, lx + 175, cy, stroke="#d4d4d4", sw=1.5)
    txt("Ranking metric scores", lx + 178, cy, 10, color="#333")


gsea(dict(x=(102.3, 462.3), rmax=16941, es=(586.7, 736.7), es_dom=[-.055, .577], band=(786.7, 799), m=(800, 899), m_dom=[-3.65, 3.53],
          bg=(55, 542, 469, 955.7), cx=262, ty=[552.7, 572.7], title=["Enrichment plot:", "GOBP_LYMPH_VESSEL_DEVELOPMENT"],
          es_ticks=[0, .1, .2, .3, .4, .5], m_ticks=[-3, -2, -1, 0, 1, 2, 3], hits=hits_one, rank=es_one_rank, val=es_one_val,
          pos=(103, 804), neg=(281.7, 893.3), zc=(371, 849.3), scr=(125, 817.7), si=(360, 864), leg=(120, 936)))
gsea(dict(x=(536.7, 893.3), rmax=16930, es=(608.3, 749), es_dom=[-.113, .446], band=(796, 807.7), m=(808.3, 900.7), m_dom=[-3.64, 3.56],
          bg=(486, 544, 899, 958), cx=692.7, ty=[555, 574.3, 595],
          title=["Enrichment plot:", "REACTOME_CONSTITUTIVE_SIGNALING_BY_AKT1_E17", "K_IN_CANCER"],
          es_ticks=[-.1, 0, .1, .2, .3, .4], m_ticks=[-2, 0, 2], hits=hits_two, rank=es_two_rank, val=es_two_val,
          pos=(537.7, 813.3), neg=(714.3, 895), zc=(802.3, 854.3), scr=(562.7, 831), si=(825, 875), leg=(550.7, 937.7)))
gsea(dict(x=(964.3, 1324.3), rmax=16955, es=(587, 737.3), es_dom=[-.028, .483], band=(787.3, 799.3), m=(800.7, 899.3), m_dom=[-3.63, 3.56],
          bg=(917, 543, 1331, 957), cx=1123, ty=[553.3, 573], title=["Enrichment plot:", "GOBP_SEMAPHORIN_PLEXIN_SIGNALING_PATHWAY"],
          es_ticks=[0, .1, .2, .3, .4], m_ticks=[-3, -2, -1, 0, 1, 2, 3], hits=hits_three, rank=es_three_rank, val=es_three_val,
          pos=(965.7, 805), neg=(1144, 893.7), zc=(1232.7, 850), scr=(996.7, 825.3), si=(1232.3, 871.7), leg=(981.7, 936.5)))

chart = alt.layer(*layers).resolve_scale(x="independent", y="independent", color="independent").properties(
    width=W, height=H, padding=0, background="white", autosize=alt.AutoSizeParams(type="none", contains="padding")
).configure_view(stroke=None)
chart.save("out.html", embed_options={"renderer": "svg", "actions": False})
